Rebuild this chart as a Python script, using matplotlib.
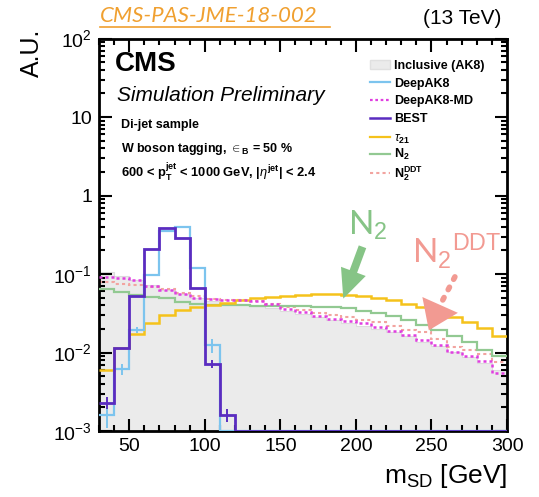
import numpy as np
import matplotlib
matplotlib.use("Agg")
import matplotlib.pyplot as plt
from matplotlib.lines import Line2D
from matplotlib.patches import Patch, FancyArrowPatch
from matplotlib.ticker import MultipleLocator, LogLocator, NullFormatter

plt.rcParams['font.family'] = ['Liberation Sans', 'DejaVu Sans']
plt.rcParams['mathtext.fontset'] = 'custom'
plt.rcParams['mathtext.rm'] = 'Liberation Sans'
plt.rcParams['mathtext.it'] = 'Liberation Sans:italic'
plt.rcParams['mathtext.bf'] = 'Liberation Sans:bold'

# soft-drop mass bins, 10 GeV wide from 30 to 300
edges = np.arange(30, 301, 10)

inclusive = [0.105, 0.095, 0.085, 0.072, 0.063, 0.055, 0.049, 0.045, 0.043, 0.041,
             0.039, 0.037, 0.034, 0.031, 0.028, 0.026, 0.024, 0.022, 0.020, 0.018,
             0.016, 0.0138, 0.012, 0.0102, 0.0087, 0.0073, 0.006]
deepak8 = [0.0016, 0.0062, 0.0194, 0.097, 0.35, 0.40, 0.12, 0.0125, 0, 0,
           0, 0, 0, 0, 0, 0, 0, 0, 0, 0, 0, 0, 0, 0, 0, 0, 0]
deepak8_err = [0.0005, 0.001, 0.0015, 0, 0, 0, 0, 0.0025, 0, 0,
               0, 0, 0, 0, 0, 0, 0, 0, 0, 0, 0, 0, 0, 0, 0, 0, 0]
deepak8_md = [0.092, 0.088, 0.084, 0.070, 0.062, 0.055, 0.049, 0.048, 0.047, 0.046,
              0.045, 0.041, 0.036, 0.033, 0.029, 0.027, 0.025, 0.024, 0.021, 0.019,
              0.0165, 0.0144, 0.0125, 0.0102, 0.0089, 0.0077, 0.0055]
best = [0.0023, 0.0115, 0.053, 0.21, 0.38, 0.285, 0.066, 0.0072, 0.0016, 0,
        0, 0, 0, 0, 0, 0, 0, 0, 0, 0, 0, 0, 0, 0, 0, 0, 0]
best_err = [0.0004, 0, 0, 0, 0, 0, 0, 0.0008, 0.0003, 0,
            0, 0, 0, 0, 0, 0, 0, 0, 0, 0, 0, 0, 0, 0, 0, 0, 0]
tau21 = [0.006, 0.0113, 0.0172, 0.0235, 0.030, 0.035, 0.038, 0.040, 0.043, 0.046,
         0.049, 0.051, 0.053, 0.0545, 0.055, 0.055, 0.054, 0.053, 0.050, 0.0465,
         0.042, 0.038, 0.033, 0.0287, 0.0246, 0.0203, 0.0162]
n2 = [0.064, 0.0596, 0.054, 0.0515, 0.049, 0.044, 0.042, 0.040, 0.040, 0.040,
      0.039, 0.039, 0.039, 0.039, 0.038, 0.038, 0.0366, 0.034, 0.032, 0.0295,
      0.026, 0.0224, 0.0193, 0.0162, 0.0137, 0.0108, 0.0089]
n2_ddt = [0.078, 0.075, 0.072, 0.068, 0.064, 0.058, 0.052, 0.048, 0.047, 0.046,
          0.045, 0.042, 0.038, 0.035, 0.032, 0.030, 0.028, 0.026, 0.0245, 0.022,
          0.0194, 0.0185, 0.0147, 0.0118, 0.0108, 0.0096, 0.0075]

ymin, ymax = 1e-3, 1e2

c_incl = '#ebebeb'
c_deep = '#7cc4ee'
c_md = '#e03ee0'
c_best = '#5a2cc0'
c_tau = '#f5c21b'
c_n2 = '#92c992'
c_ddt = '#f2a4a0'

fig = plt.figure(figsize=(5.39, 4.97), dpi=100)
ax = fig.add_axes([0.1837, 0.1328, 0.757, 0.7897])
ax.set_yscale('log')
ax.set_xlim(30, 300)
ax.set_ylim(ymin, ymax)

def clip(v):
    return np.clip(np.asarray(v, dtype=float), ymin, None)

ax.stairs(inclusive, edges, fill=True, baseline=1e-5, color=c_incl, zorder=1)
ax.stairs(inclusive, edges, baseline=None, color='#dcdcdc', lw=0.8, zorder=1)
ax.stairs(n2_ddt, edges, baseline=None, color=c_ddt, lw=1.5, ls=(0, (1.5, 1.5)), zorder=2)
ax.stairs(n2, edges, baseline=None, color=c_n2, lw=1.6, zorder=3)
ax.stairs(tau21, edges, baseline=None, color=c_tau, lw=1.8, zorder=3)
ax.stairs(deepak8_md, edges, baseline=None, color=c_md, lw=1.8, ls=(0, (1.2, 1.2)), zorder=4)
ax.stairs(clip(deepak8), edges, baseline=None, color=c_deep, lw=1.6, zorder=5)
ax.stairs(clip(best), edges, baseline=None, color=c_best, lw=2.0, zorder=6)

centers = 0.5 * (edges[:-1] + edges[1:])
for vals, errs, col in [(deepak8, deepak8_err, c_deep), (best, best_err, c_best)]:
    vals = np.asarray(vals)
    errs = np.asarray(errs)
    m = errs > 0
    ax.errorbar(centers[m], vals[m], yerr=errs[m], fmt='none', ecolor=col,
                elinewidth=1.4, capsize=0, zorder=6)

# axis styling, ticks on all four sides pointing inward
for s in ax.spines.values():
    s.set_linewidth(2)
ax.xaxis.set_major_locator(MultipleLocator(50))
ax.xaxis.set_minor_locator(MultipleLocator(10))
ax.yaxis.set_minor_locator(LogLocator(base=10, subs=np.arange(2, 10), numticks=20))
ax.yaxis.set_minor_formatter(NullFormatter())
ax.tick_params(which='both', direction='in', top=True, right=True, width=1.5)
ax.tick_params(which='major', length=9, labelsize=14, pad=5)
ax.tick_params(which='minor', length=4.5)
ax.set_yticks([1e-3, 1e-2, 1e-1, 1, 10, 100])
ax.set_yticklabels([r'$10^{-3}$', r'$10^{-2}$', r'$10^{-1}$', '1', '10', r'$10^{2}$'])

ax.set_ylabel('A.U.', fontsize=18, loc='top')
ax.yaxis.set_label_coords(-0.135, 1.025)
ax.set_xlabel(r'm$_{\mathrm{SD}}$ [GeV]', fontsize=19, loc='right', labelpad=5)

# header texts
fig.text(0.186, 0.956, 'CMS-PAS-JME-18-002', color='#f0a030', fontsize=16,
         family='Lato', style='italic', ha='left', va='baseline')
fig.add_artist(Line2D([0.186, 0.612], [0.9455, 0.9455], color='#f0a030', lw=1.2))
fig.text(0.930, 0.962, '(13 TeV)', fontsize=15, ha='right', va='center')

ax.text(0.04, 0.935, 'CMS', transform=ax.transAxes, fontsize=20, weight='bold', va='center')
ax.text(0.045, 0.855, 'Simulation Preliminary', transform=ax.transAxes, fontsize=15,
        style='italic', va='center')
ax.text(0.055, 0.780, 'Di-jet sample', transform=ax.transAxes, fontsize=9,
        weight='bold', va='center')
ax.text(0.055, 0.718, r'W boson tagging, $\in_{\mathbf{B}}$ = 50 %', transform=ax.transAxes,
        fontsize=9, weight='bold', va='center')
ax.text(0.055, 0.660,
        r'600 < p$_{\mathbf{T}}^{\mathbf{jet}}$ < 1000 GeV, |$\eta^{\mathbf{jet}}$| < 2.4',
        transform=ax.transAxes, fontsize=9.3, weight='bold', va='center')

# legend, tagger group and substructure group
leg_kw = dict(frameon=False, handlelength=1.6, handletextpad=0.35,
              borderpad=0, borderaxespad=0, prop={'weight': 'bold', 'size': 9})
h1 = [
    Patch(facecolor=c_incl, edgecolor='#e0e0e0'),
    Line2D([], [], color=c_deep, lw=1.6),
    Line2D([], [], color=c_md, lw=1.6, ls=(0, (1.2, 1.2))),
    Line2D([], [], color=c_best, lw=1.8),
]
l1 = ['Inclusive (AK8)', 'DeepAK8', 'DeepAK8-MD', 'BEST']
leg1 = ax.legend(h1, l1, loc='upper left', bbox_to_anchor=(0.664, 0.945),
                 labelspacing=0.45, **leg_kw)
ax.add_artist(leg1)
h2 = [
    Line2D([], [], color=c_tau, lw=1.6),
    Line2D([], [], color=c_n2, lw=1.6),
    Line2D([], [], color=c_ddt, lw=1.5, ls=(0, (1.5, 1.5))),
]
l2 = [r'$\tau_{\mathbf{21}}$', r'N$_{\mathbf{2}}$', r'N$_{\mathbf{2}}^{\mathbf{DDT}}$']
ax.legend(h2, l2, loc='upper left', bbox_to_anchor=(0.664, 0.760),
          labelspacing=0.12, **leg_kw)

# annotations pointing at the N2 curves
ax.text(208, 0.42, r'N$_2$', fontsize=24, color='#86c486', family='Lato',
        ha='center', va='center')
ax.add_patch(FancyArrowPatch((205, 0.24), (191, 0.045),
                             arrowstyle='simple,head_length=1.1,head_width=1.0,tail_width=0.3',
                             mutation_scale=19, color='#86c486', lw=0, zorder=7))
ax.text(237, 0.14, r'N$_2$$^{\mathrm{DDT}}$', fontsize=24, color='#f29a92',
        family='Lato', ha='left', va='baseline')
ax.plot([265.5, 253], [0.092, 0.032], color='#f29a92', lw=4, ls=(0, (0.5, 1.6)),
        solid_capstyle='round', dash_capstyle='round', zorder=7)
ax.add_patch(FancyArrowPatch((254, 0.034), (247.5, 0.0178),
                             arrowstyle='-|>,head_length=1.0,head_width=0.7',
                             mutation_scale=20, color='#f29a92', lw=0, zorder=7))

fig.savefig('out.png', dpi=100)
